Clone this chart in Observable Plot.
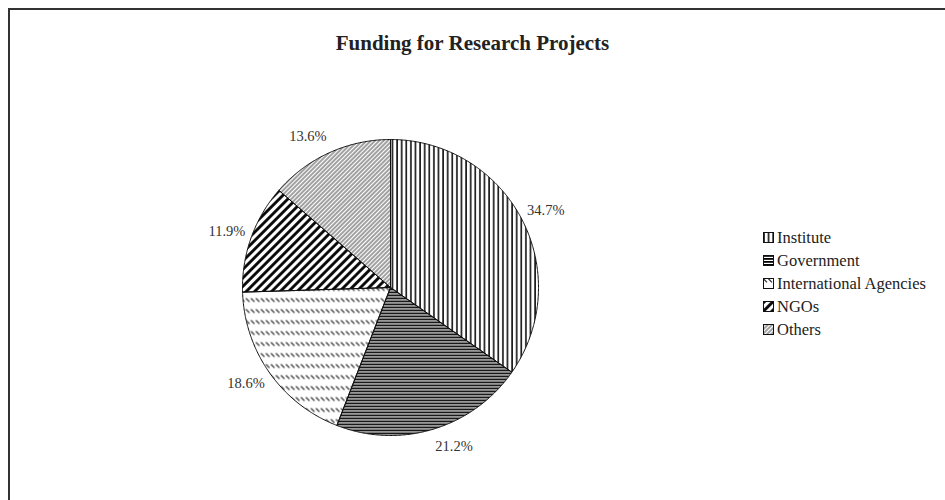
<!DOCTYPE html>
<html>
<head>
<meta charset="utf-8">
<script src="https://cdn.jsdelivr.net/npm/d3@7"></script>
<script src="https://cdn.jsdelivr.net/npm/@observablehq/plot@0.6"></script>
<style>
  html, body { margin: 0; padding: 0; background: #fff; overflow: hidden; }
  #wrap { position: relative; width: 945px; height: 500px; overflow: hidden; background: #fff; }
  #frame { position: absolute; left: 8px; top: 8px; width: 1000px; height: 600px; border: 2px solid #333; box-sizing: border-box; }
  #title { position: absolute; left: 0; top: 31px; width: 945px; text-align: center; font: bold 21px "Liberation Serif", serif; color: #222; }
  #chart { position: absolute; left: 0; top: 0; }
  #legend { position: absolute; left: 763px; top: 226px; font: 16.5px "Liberation Serif", serif; color: #222; white-space: nowrap; }
  #legend .item { height: 23px; display: flex; align-items: center; }
  #legend svg { margin-right: 3px; }
</style>
</head>
<body>
<div id="wrap">
  <div id="frame"></div>
  <div id="title">Funding for Research Projects</div>
  <div id="chart"></div>
  <div id="legend"></div>
</div>
<svg width="0" height="0" style="position:absolute">
  <defs>
    <pattern id="p0" patternUnits="userSpaceOnUse" width="4.6" height="10">
      <line x1="1" y1="0" x2="1" y2="10" stroke="#000" stroke-width="1.5"/>
    </pattern>
    <pattern id="p1" patternUnits="userSpaceOnUse" width="10" height="3">
      <rect x="0" y="0" width="10" height="1.8" fill="#000"/>
    </pattern>
    <pattern id="p2" patternUnits="userSpaceOnUse" width="5" height="11">
      <line x1="0.4" y1="0.8" x2="4" y2="4.4" stroke="#333" stroke-width="1.3"/>
    </pattern>
    <pattern id="p3" patternUnits="userSpaceOnUse" width="6" height="10" patternTransform="rotate(45)">
      <line x1="1.5" y1="0" x2="1.5" y2="10" stroke="#000" stroke-width="2.8"/>
    </pattern>
    <pattern id="p4" patternUnits="userSpaceOnUse" width="3" height="10" patternTransform="rotate(45)">
      <line x1="1" y1="0" x2="1" y2="10" stroke="#444" stroke-width="1"/>
    </pattern>
  </defs>
</svg>
<script>
// ---- data ----
const categories = ["Institute", "Government", "International Agencies", "NGOs", "Others"];
const values = [34.7, 21.2, 18.6, 11.9, 13.6];
const patterns = ["p0", "p1", "p2", "p3", "p4"];

// ---- layout ----
const W = 945, H = 500, CX = 390, CY = 287, R = 148;

const total = d3.sum(values);
const pie = d3.pie().sort(null).value(d => d.value)(categories.map((c, i) => ({cat: c, value: values[i], pat: patterns[i]})));

// polygon points per slice (unit circle, y up; angle clockwise from top)
const slices = pie.map(s => {
  const pts = [{x: 0, y: 0}];
  const n = Math.max(4, Math.ceil((s.endAngle - s.startAngle) / (Math.PI / 360)));
  for (let k = 0; k <= n; k++) {
    const a = s.startAngle + (s.endAngle - s.startAngle) * k / n;
    pts.push({x: Math.sin(a), y: Math.cos(a)});
  }
  pts.push({x: 0, y: 0});
  return {cat: s.data.cat, pat: s.data.pat, pts};
});

const labels = pie.map(s => {
  const a = (s.startAngle + s.endAngle) / 2;
  return {
    text: `${(s.data.value / total * 100).toFixed(1)}%`,
    x: Math.sin(a) * (R + 6) / R,
    y: Math.cos(a) * (R + 18) / R,
    right: Math.sin(a) >= 0
  };
});

const plot = Plot.plot({
  width: W,
  height: H,
  margin: 0,
  x: {domain: [-CX / R, (W - CX) / R], axis: null},
  y: {domain: [-(H - CY) / R, CY / R], axis: null},
  marks: [
    ...slices.map(s => Plot.line(s.pts, {x: "x", y: "y", fill: `url(#${s.pat})`, stroke: "#111", strokeWidth: 1, strokeLinejoin: "round"})),
    Plot.text(labels.filter(d => d.right), {x: "x", y: "y", text: "text", textAnchor: "start", fontSize: 14.5, fontFamily: "Liberation Serif", fill: "#333"}),
    Plot.text(labels.filter(d => !d.right), {x: "x", y: "y", text: "text", textAnchor: "end", fontSize: 14.5, fontFamily: "Liberation Serif", fill: "#333"})
  ]
});
document.getElementById("chart").appendChild(plot);

// legend
const legend = d3.select("#legend");
categories.forEach((c, i) => {
  const item = legend.append("div").attr("class", "item");
  const sw = item.append("svg").attr("width", 11).attr("height", 11);
  sw.append("rect").attr("x", 0.5).attr("y", 0.5).attr("width", 10).attr("height", 10)
    .attr("fill", `url(#${patterns[i]})`).attr("stroke", "#111").attr("stroke-width", 1);
  item.append("span").text(c);
});
</script>
</body>
</html>
